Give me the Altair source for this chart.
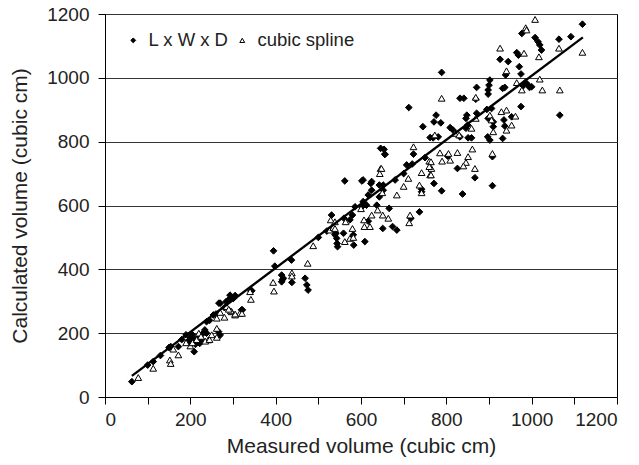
import altair as alt
import pandas as pd

# L x W x D (filled diamonds)
ld_x = [63, 113, 154, 172, 209, 195, 200, 205, 210, 215, 220, 225, 230, 234, 238, 200, 212, 222,
        238, 254, 266, 270, 270, 267, 284, 289, 297, 305, 293, 301, 320, 322, 342, 344, 180, 190,
        245, 260, 280, 130, 150, 100,
        395, 398, 437, 414, 418, 414, 438, 469, 473, 476, 416, 541, 544, 539, 545, 543, 559, 531,
        562, 580, 574, 582, 583, 609, 602, 623, 625, 656, 605, 613, 602, 586, 637, 666, 617, 651,
        674, 684, 737, 717, 643, 652, 643, 652, 646, 654, 656, 723, 707, 712, 625, 617, 605, 771,
        789, 742, 742, 838, 908, 826, 867, 803, 908, 789, 776, 771, 787, 745, 809, 816, 762, 769,
        781, 832, 851, 859, 897, 902, 832, 841, 871, 869, 871, 848, 846, 850, 846, 900, 898, 898,
        902, 932, 937, 906, 895, 898, 910, 910, 953, 935, 937, 932, 975, 926, 945, 965, 969, 971,
        939, 975, 977, 1008, 1015, 1019, 1023, 980, 990, 1000, 985, 995, 1119, 1092, 1064, 1066,
        700, 720, 750, 680, 520, 500, 560]
ld_y = [48, 111, 158, 158, 142, 175, 185, 195, 180, 170, 190, 178, 200, 210, 200, 170, 165, 168,
        236, 257, 205, 194, 294, 294, 299, 304, 311, 318, 319, 309, 273, 273, 332, 333, 180, 195,
        240, 260, 280, 130, 155, 100,
        458, 410, 429, 382, 372, 361, 359, 372, 351, 335, 368, 513, 481, 508, 471, 497, 513, 570,
        677, 570, 555, 508, 476, 487, 677, 669, 648, 760, 612, 601, 596, 596, 601, 591, 551, 528,
        534, 523, 580, 560, 664, 664, 627, 648, 779, 776, 761, 761, 727, 907, 675, 633, 680, 669,
        646, 651, 643, 636, 662, 716, 687, 755, 753, 1017, 883, 862, 859, 847, 844, 836, 813, 812,
        815, 815, 812, 812, 815, 805, 936, 936, 970, 933, 889, 883, 873, 852, 842, 977, 962, 949,
        993, 967, 970, 904, 901, 873, 862, 847, 878, 868, 849, 810, 910, 1058, 1051, 1079, 1071, 1035,
        1009, 1012, 1139, 1126, 1113, 1103, 1087, 975, 980, 972, 985, 970, 1168, 1129, 1121, 883,
        700, 730, 750, 680, 520, 500, 560]

# cubic spline (open triangles)
cs_x = [78, 113, 152, 154, 172, 242, 262, 262, 262, 285, 297, 305, 316, 305, 295, 342, 321, 394,
        396, 438, 438, 475, 488, 527, 562, 574, 582, 529, 539, 535, 564, 580, 539, 646, 711, 760,
        765, 762, 742, 737, 684, 639, 625, 607, 651, 664, 608, 621, 715, 713, 648, 644, 723, 785,
        805, 826, 790, 809, 861, 908, 851, 846, 840, 867, 764, 760, 764, 742, 820, 830, 773, 789,
        869, 869, 859, 902, 906, 910, 929, 941, 962, 953, 941, 965, 977, 1025, 1066, 1019, 941, 982,
        926, 1017, 1008, 986, 988, 1064, 1119, 200, 205, 215, 220, 235, 245, 270, 280, 290, 340,
        160, 190, 225, 250, 600, 650, 700]
cs_y = [61, 90, 116, 105, 132, 179, 215, 187, 247, 283, 267, 257, 262, 260, 270, 306, 262, 359,
        332, 389, 379, 419, 474, 523, 487, 497, 500, 555, 549, 531, 549, 528, 528, 716, 685, 739,
        716, 696, 703, 664, 633, 586, 570, 555, 570, 560, 534, 534, 570, 546, 716, 700, 784, 765,
        763, 766, 739, 742, 777, 763, 753, 735, 724, 716, 737, 722, 696, 640, 826, 821, 821, 936,
        939, 873, 842, 883, 868, 831, 894, 899, 880, 852, 836, 985, 962, 962, 962, 996, 1022, 1077,
        1093, 1066, 1183, 1157, 1150, 1093, 1080, 160, 170, 180, 200, 175, 180, 265, 250, 275, 330,
        150, 170, 190, 195, 590, 640, 660]

# fitted line endpoints
line_x = [63, 1120]
line_y = [66, 1127]

series_names = ["L x W x D", "cubic spline"]

df = pd.DataFrame({
    "x": ld_x + cs_x,
    "y": ld_y + cs_y,
    "series": [series_names[0]] * len(ld_x) + [series_names[1]] * len(cs_x),
})
line_df = pd.DataFrame({"x": line_x, "y": line_y})

FONT = "Liberation Sans"
TXT = "#222"
tick_vals = list(range(0, 1201, 100))

xscale = alt.Scale(domain=[0, 1200], nice=False)
yscale = alt.Scale(domain=[0, 1200], nice=False)

x_axis = alt.Axis(
    title="Measured volume (cubic cm)", values=tick_vals, format="d",
    labelExpr="datum.value % 200 == 0 ? datum.label : ''",
    grid=False, tickSize=7, tickColor="black", domainColor="black",
    labelFontSize=19, titleFontSize=21, labelColor=TXT, titleColor=TXT,
    labelFont=FONT, titleFont=FONT, titleFontWeight="normal", labelPadding=6, titlePadding=6,
)
y_axis = alt.Axis(
    title="Calculated volume (cubic cm)", values=tick_vals, format="d",
    labelExpr="datum.value % 200 == 0 ? datum.label : ''",
    grid=True, gridColor="#333", gridWidth=1,
    gridOpacity={"condition": {"test": "datum.value % 200 == 0", "value": 1}, "value": 0},
    tickSize=7, tickColor="black", domainColor="black",
    labelFontSize=19, titleFontSize=21, labelColor=TXT, titleColor=TXT,
    labelFont=FONT, titleFont=FONT, titleFontWeight="normal", labelPadding=9, titlePadding=16,
)

legend = alt.Legend(title=None, orient="none", legendX=19, legendY=17,
                    direction="horizontal", labelFontSize=18.5, labelFont=FONT,
                    labelColor=TXT, symbolSize=24, symbolStrokeWidth=1,
                    columnPadding=4, labelOffset=6)

points = alt.Chart(df).mark_point(filled=True, stroke="black", strokeWidth=1, opacity=1).encode(
    x=alt.X("x:Q", scale=xscale, axis=x_axis),
    y=alt.Y("y:Q", scale=yscale, axis=y_axis),
    shape=alt.Shape("series:N", scale=alt.Scale(domain=series_names, range=["diamond", "triangle-up"]),
                    legend=legend),
    fill=alt.Fill("series:N", scale=alt.Scale(domain=series_names, range=["black", "white"]),
                  legend=legend),
    size=alt.value(45),
)

line = alt.Chart(line_df).mark_line(color="black", strokeWidth=2.3).encode(
    x=alt.X("x:Q", scale=xscale),
    y=alt.Y("y:Q", scale=yscale),
)

chart = alt.layer(points, line).properties(
    width=512, height=383,
    autosize=alt.AutoSizeParams(type="none"),
    padding={"left": 105, "top": 14, "right": 22, "bottom": 68},
    background="white",
).configure_view(stroke="black", strokeWidth=1)

chart.save("out.html", embed_options={"renderer": "svg", "actions": False})
